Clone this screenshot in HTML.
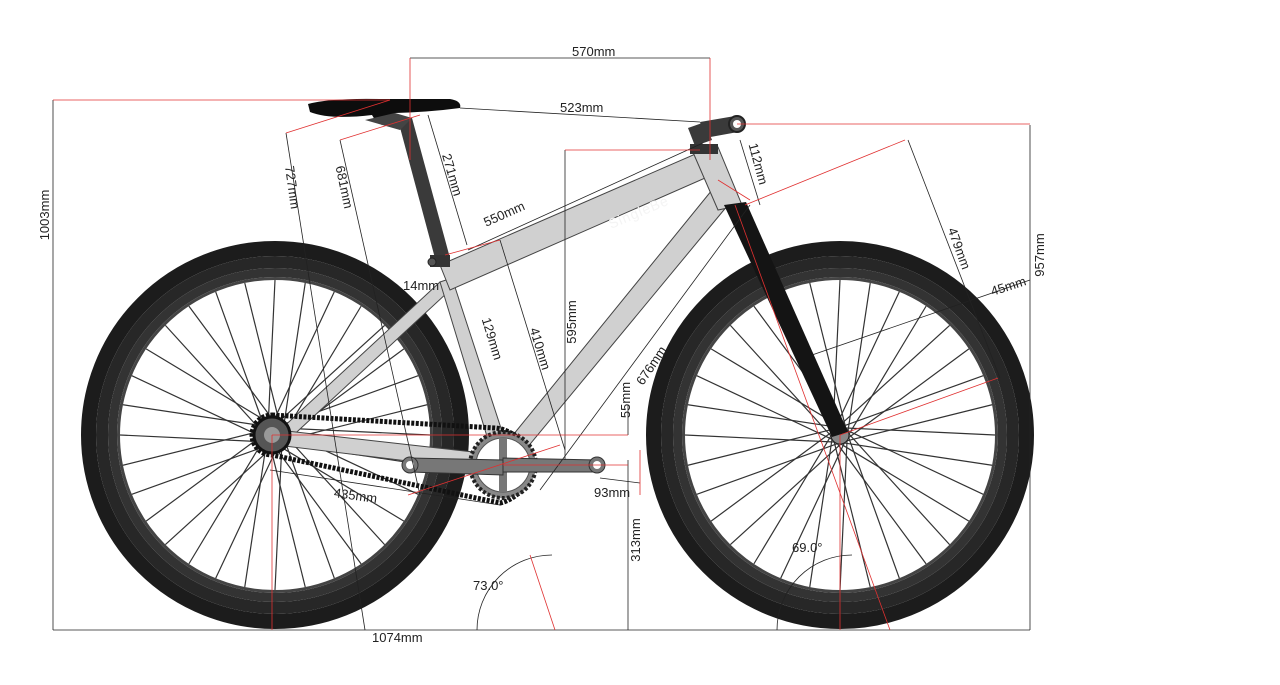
<!DOCTYPE html>
<html><head><meta charset="utf-8"><style>
html,body{margin:0;padding:0;background:#fff;}
svg{display:block;}
text{font-family:"Liberation Sans",sans-serif;font-size:13px;fill:#222;}
</style></head><body>
<svg id="s" width="1280" height="685" viewBox="0 0 1280 685" xmlns="http://www.w3.org/2000/svg">
<g id="wheels"></g>
<!-- frame -->
<g stroke="#444" stroke-width="1" fill="#d0d0d0">
<polygon points="278,432 440,282 448,292 286,442"/>
<polygon points="278,430 500,455 498,472 276,445"/>
<polygon points="440,282 452,278 512,462 496,466"/>
<polygon points="440,265 700,152 712,175 450,290"/>
<polygon points="712,190 728,205 512,466 496,456"/>
<polygon points="692,150 718,147 742,205 718,210"/>
</g>
<text x="600" y="215" transform="rotate(-23 640 195)" style="fill:#f4f4f4;font-size:14px;letter-spacing:1px">SingleBe</text>
<!-- fork -->
<polygon points="724,205 746,202 848,432 832,437" fill="#141414"/>
<!-- seatpost -->
<polygon points="398,120 412,118 450,258 436,262" fill="#3a3a3a"/>
<rect x="430" y="255" width="20" height="12" fill="#333"/>
<circle cx="432" cy="262" r="4" fill="#555" stroke="#222"/>
<!-- saddle -->
<path d="M308,104 Q330,98 380,99 L450,99 Q462,101 460,108 Q430,112 395,113 L382,125 L375,120 L372,115 Q330,120 310,112 Z" fill="#0d0d0d"/>
<path d="M365,120 L395,113 L412,118 L400,130 Z" fill="#444"/>
<!-- stem/bar -->
<polygon points="688,128 705,122 712,140 695,146" fill="#3a3a3a"/>
<polygon points="700,122 735,116 738,132 705,138" fill="#3a3a3a"/>
<circle cx="737" cy="124" r="8" fill="#555" stroke="#222" stroke-width="2"/>
<circle cx="737" cy="124" r="4" fill="#fff"/>
<rect x="690" y="144" width="28" height="10" fill="#333"/>
<!-- chain -->
<path d="M272,415 L495,428 A38,38 0 0 1 500,503 L272,455 A20,20 0 0 1 272,415 Z" fill="none" stroke="#111" stroke-width="5" stroke-dasharray="3 1.5"/>
<circle cx="503" cy="465" r="33" fill="#888" stroke="#222" stroke-width="4" stroke-dasharray="3 2"/>
<circle cx="503" cy="465" r="27" fill="#fff" stroke="#555"/>
<g stroke="#777" stroke-width="8"><line x1="503" y1="438" x2="503" y2="492"/><line x1="476" y1="465" x2="530" y2="465"/></g>
<circle cx="272" cy="435" r="18" fill="#555" stroke="#111" stroke-width="3"/>
<circle cx="272" cy="435" r="8" fill="#999"/>
<!-- cranks -->
<polygon points="410,458 503,460 503,475 410,472" fill="#777" stroke="#333"/>
<circle cx="410" cy="465" r="8" fill="#777" stroke="#333"/><circle cx="410" cy="465" r="4" fill="#fff"/>
<polygon points="503,458 597,460 597,472 503,472" fill="#777" stroke="#333"/>
<circle cx="597" cy="465" r="8" fill="#777" stroke="#333"/><circle cx="597" cy="465" r="4" fill="#fff"/>
<!-- dimension lines black -->
<g stroke="#222" stroke-width="0.8" fill="none">
<line x1="53" y1="100" x2="53" y2="630"/>
<line x1="53" y1="630" x2="1030" y2="630"/>
<line x1="1030" y1="125" x2="1030" y2="630"/>
<line x1="410" y1="58" x2="710" y2="58"/>
<line x1="460" y1="108" x2="700" y2="122"/>
<line x1="286" y1="133" x2="365" y2="630"/>
<line x1="340" y1="140" x2="420" y2="495"/>
<line x1="428" y1="115" x2="467" y2="245"/>
<line x1="468" y1="250" x2="703" y2="143"/>
<line x1="500" y1="240" x2="565" y2="450"/>
<line x1="565" y1="150" x2="565" y2="460"/>
<line x1="750" y1="205" x2="540" y2="490"/>
<line x1="740" y1="140" x2="760" y2="205"/>
<line x1="908" y1="140" x2="1000" y2="378"/>
<line x1="812" y1="355" x2="1030" y2="280"/>
<line x1="628" y1="460" x2="628" y2="630"/>
<line x1="628" y1="405" x2="628" y2="435"/>
<line x1="270" y1="470" x2="500" y2="505"/>
<line x1="600" y1="478" x2="640" y2="483"/>
<path d="M477,630 A75,75 0 0 1 552,555"/>
<path d="M777,630 A75,75 0 0 1 852,555"/>
</g>
<!-- red lines -->
<g stroke="#e03030" stroke-width="0.8" fill="none">
<line x1="53" y1="100" x2="390" y2="100"/>
<line x1="410" y1="58" x2="410" y2="160"/>
<line x1="710" y1="58" x2="710" y2="160"/>
<line x1="737" y1="124" x2="1030" y2="124"/>
<line x1="565" y1="150" x2="700" y2="150"/>
<line x1="286" y1="133" x2="390" y2="100"/>
<line x1="340" y1="140" x2="420" y2="115"/>
<line x1="445" y1="255" x2="500" y2="240"/>
<line x1="272" y1="435" x2="628" y2="435"/>
<line x1="503" y1="465" x2="628" y2="465"/>
<line x1="272" y1="435" x2="272" y2="630"/>
<line x1="840" y1="435" x2="840" y2="630"/>
<line x1="408" y1="495" x2="560" y2="445"/>
<line x1="745" y1="205" x2="905" y2="140"/>
<line x1="840" y1="435" x2="998" y2="378"/>
<line x1="735" y1="205" x2="890" y2="630"/>
<line x1="530" y1="555" x2="555" y2="630"/>
<line x1="640" y1="450" x2="640" y2="495"/>
<line x1="718" y1="180" x2="750" y2="200"/>
</g>
<!-- labels -->
<text x="572" y="56">570mm</text>
<text x="560" y="112">523mm</text>
<text x="53" y="215" transform="rotate(-90 53 215)" text-anchor="middle" dy="-4">1003mm</text>
<text x="1044" y="255" transform="rotate(-90 1044 255)" text-anchor="middle">957mm</text>
<text x="288" y="188" transform="rotate(82 288 188)" text-anchor="middle">727mm</text>
<text x="340" y="188" transform="rotate(78 340 188)" text-anchor="middle">681mm</text>
<text x="448" y="176" transform="rotate(74 448 176)" text-anchor="middle">271mm</text>
<text x="506" y="218" transform="rotate(-24 506 218)" text-anchor="middle">550mm</text>
<text x="403" y="290">14mm</text>
<text x="488" y="340" transform="rotate(73 488 340)" text-anchor="middle">129mm</text>
<text x="536" y="350" transform="rotate(73 536 350)" text-anchor="middle">410mm</text>
<text x="576" y="322" transform="rotate(-90 576 322)" text-anchor="middle">595mm</text>
<text x="655" y="368" transform="rotate(-56 655 368)" text-anchor="middle">676mm</text>
<text x="630" y="400" transform="rotate(-90 630 400)" text-anchor="middle">55mm</text>
<text x="640" y="540" transform="rotate(-90 640 540)" text-anchor="middle">313mm</text>
<text x="754" y="165" transform="rotate(75 754 165)" text-anchor="middle">112mm</text>
<text x="955" y="250" transform="rotate(70 955 250)" text-anchor="middle">479mm</text>
<text x="990" y="290" transform="rotate(-18 1010 285)">45mm</text>
<text x="355" y="500" transform="rotate(8 355 500)" text-anchor="middle">435mm</text>
<text x="594" y="497">93mm</text>
<text x="473" y="590">73.0°</text>
<text x="792" y="552">69.0°</text>
<text x="372" y="642">1074mm</text>
</svg>
<script>
var g=document.getElementById('wheels'),ns='http://www.w3.org/2000/svg';
function el(t,a){var e=document.createElementNS(ns,t);for(var k in a)e.setAttribute(k,a[k]);g.appendChild(e);return e;}
[[275,435],[840,435]].forEach(function(c){
 el('circle',{cx:c[0],cy:c[1],r:186.5,fill:'none',stroke:'#1c1c1c','stroke-width':15});
 el('circle',{cx:c[0],cy:c[1],r:173,fill:'none',stroke:'#272727','stroke-width':12});
 el('circle',{cx:c[0],cy:c[1],r:162.5,fill:'none',stroke:'#333','stroke-width':9});
 el('circle',{cx:c[0],cy:c[1],r:156.5,fill:'none',stroke:'#444','stroke-width':3});
 for(var i=0;i<32;i++){var a=i*Math.PI*2/32,o=(i%2?0.5:-0.5);
  var x2=c[0]+155*Math.cos(a),y2=c[1]+155*Math.sin(a);
  var x1=c[0]+8*Math.cos(a+o*2.2),y1=c[1]+8*Math.sin(a+o*2.2);
  el('line',{x1:x1,y1:y1,x2:x2,y2:y2,stroke:'#333','stroke-width':1.2});}
 el('circle',{cx:c[0],cy:c[1],r:9,fill:'#888',stroke:'#222'});
});
</script>
</body></html>
